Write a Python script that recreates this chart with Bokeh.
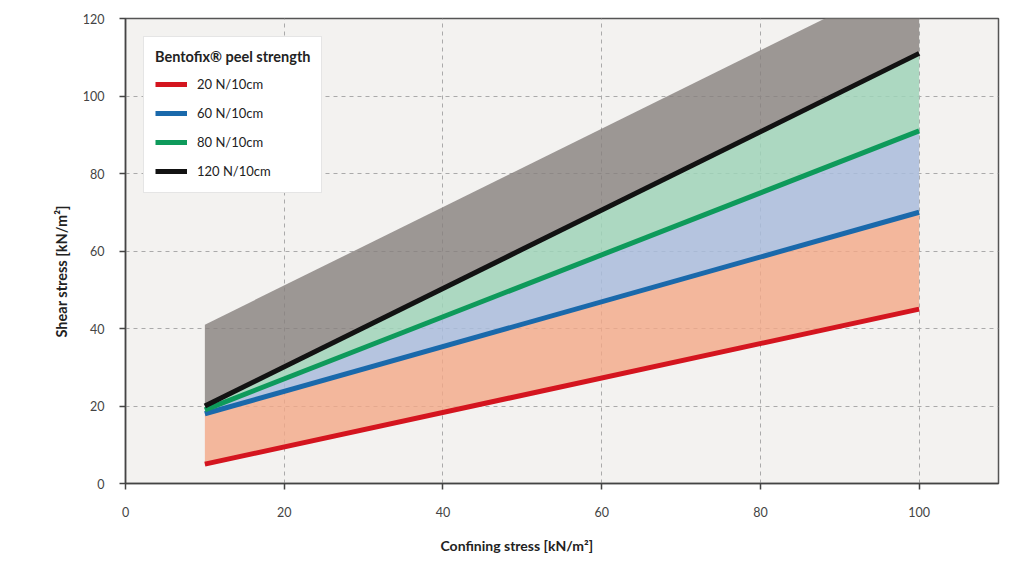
from bokeh.plotting import figure
from bokeh.models import FixedTicker, Legend, LegendItem, Range1d, Title
from bokeh.embed import file_html
from bokeh.resources import INLINE

# confining stress end points of every curve
stress = [10, 100]

# shear stress for each peel strength
labels = ["20 N/10cm", "60 N/10cm", "80 N/10cm", "120 N/10cm"]
shear_20 = [5, 45]
shear_60 = [18, 70]
shear_80 = [19, 91]
shear_120 = [20, 111]
upper_edge = [41, 132]   # top of the grey area

line_colors = ["#d4151f", "#1a69ab", "#0e9a5b", "#121212"]

x_ticks = [0, 20, 40, 60, 80, 100]
y_ticks = [0, 20, 40, 60, 80, 100, 120]

FONT = "Lato"

p = figure(width=1016, height=569, output_backend="svg", toolbar_location=None,
           x_range=Range1d(0, 110), y_range=Range1d(0, 120),
           min_border_left=125, min_border_right=18, min_border_top=18, min_border_bottom=86)

p.background_fill_color = "#f3f2f0"
p.border_fill_color = "white"
p.outline_line_color = "#555555"
p.outline_line_width = 1.5

# shaded bands between the curves
p.varea(x=stress, y1=shear_120, y2=upper_edge, fill_color="#86807d", fill_alpha=0.8)
p.varea(x=stress, y1=shear_80, y2=shear_120, fill_color="#9fd4b8", fill_alpha=0.85)
p.varea(x=stress, y1=shear_60, y2=shear_80, fill_color="#a9bcdc", fill_alpha=0.85)
p.varea(x=stress, y1=shear_20, y2=shear_60, fill_color="#f2a787", fill_alpha=0.8)

series = [shear_20, shear_60, shear_80, shear_120]
renderers = []
for ys, col in zip(series, line_colors):
    r = p.line(stress, ys, line_color=col, line_width=5)
    renderers.append(r)

for ax in (p.xaxis, p.yaxis):
    ax.axis_line_color = "#444444"
    ax.axis_line_width = 1.5
    ax.major_tick_line_color = "#444444"
    ax.major_tick_line_width = 1.5
    ax.major_tick_out = 6
    ax.major_tick_in = 0
    ax.minor_tick_line_color = None
    ax.major_label_text_font = FONT
    ax.major_label_text_font_size = "12.5px"
    ax.major_label_text_color = "#444444"

p.xaxis.ticker = FixedTicker(ticks=x_ticks)
p.yaxis.ticker = FixedTicker(ticks=y_ticks)
p.xaxis.major_label_standoff = 17
p.yaxis.major_label_standoff = 15

# axis titles are off-centre in the original, so use titles with an offset
xlab = Title(text="Confining stress [kN/m²]", align="left", offset=315, standoff=30,
             text_font=FONT, text_font_size="14px", text_font_style="bold",
             text_color="#222222")
ylab = Title(text="Shear stress [kN/m²]", align="left", offset=146, standoff=19,
             text_font=FONT, text_font_size="14.5px", text_font_style="bold",
             text_color="#222222")
p.add_layout(xlab, "below")
p.add_layout(ylab, "left")

p.xgrid.ticker = FixedTicker(ticks=x_ticks[1:])
p.ygrid.ticker = FixedTicker(ticks=y_ticks[1:-1])
for g in (p.xgrid, p.ygrid):
    g.grid_line_color = "#aaaaaa"
    g.grid_line_dash = "4 4"
    g.grid_line_width = 1

legend = Legend(items=[LegendItem(label=l, renderers=[r]) for l, r in zip(labels, renderers)],
                location="top_left", title="Bentofix® peel strength")
legend.margin = 18
legend.padding = 11
legend.spacing = 9
legend.glyph_width = 32
legend.glyph_height = 20
legend.label_height = 20
legend.label_standoff = 10
legend.title_standoff = 9
legend.title_text_font = FONT
legend.title_text_font_size = "14.5px"
legend.title_text_font_style = "bold"
legend.title_text_color = "#222222"
legend.label_text_font = FONT
legend.label_text_font_size = "13px"
legend.label_text_color = "#222222"
legend.background_fill_color = "white"
legend.background_fill_alpha = 1
legend.border_line_color = "#cccccc"
p.add_layout(legend)

open("out.html", "w").write(file_html(p, INLINE))
